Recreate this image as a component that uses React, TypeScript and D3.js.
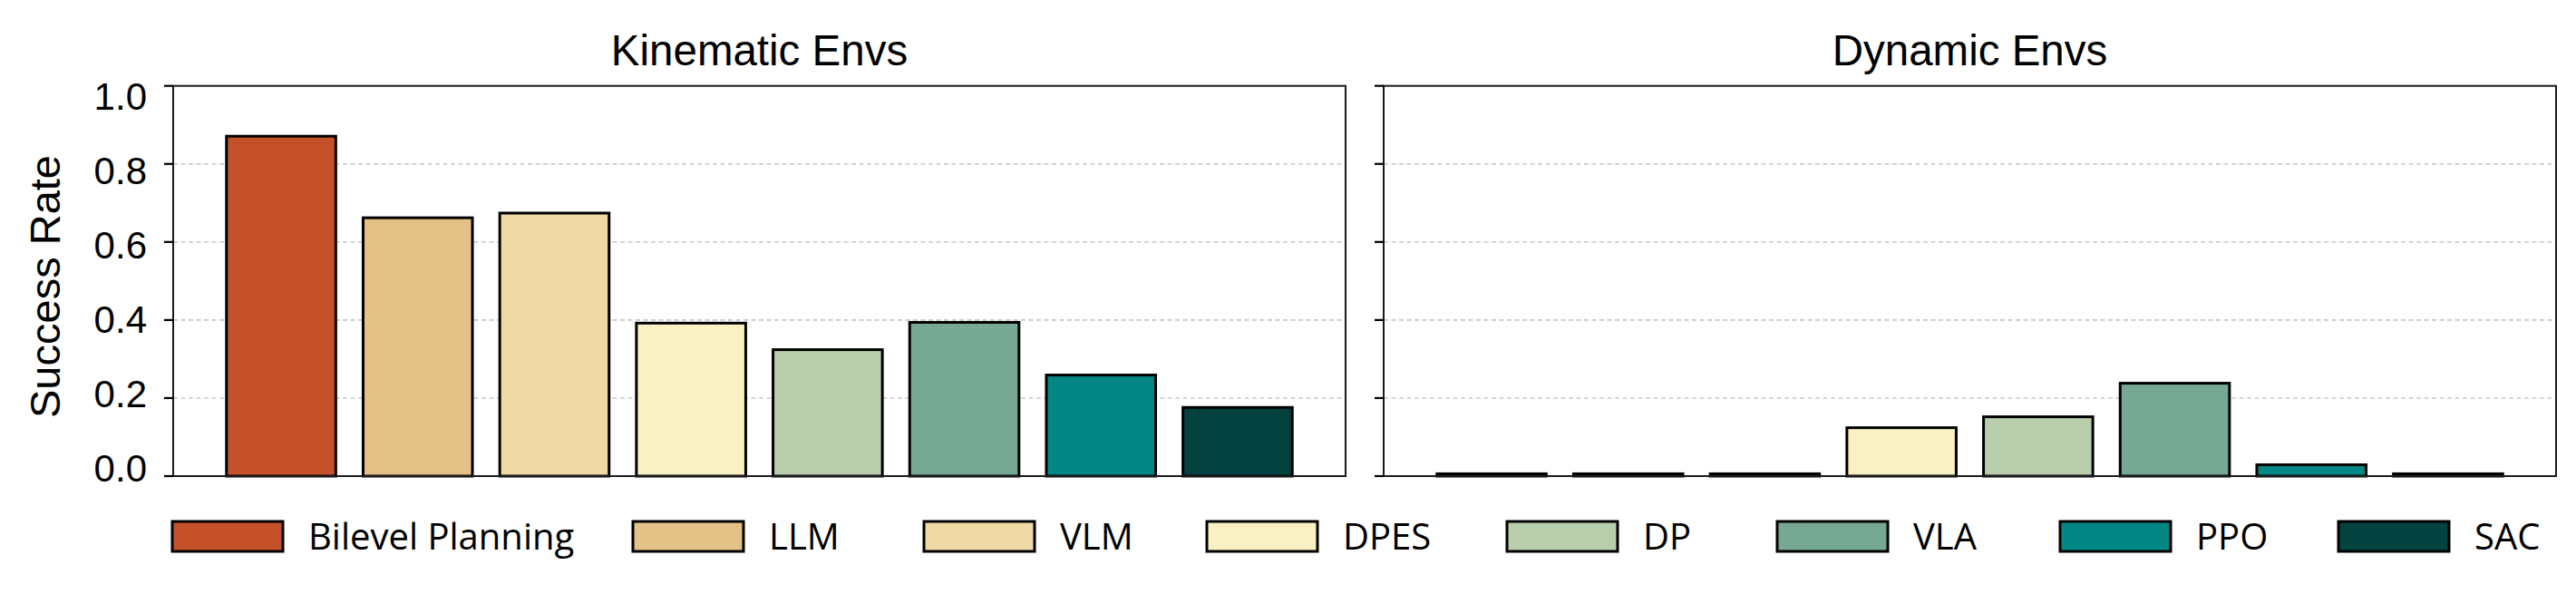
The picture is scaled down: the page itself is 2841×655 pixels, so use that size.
import React from "react";
import * as d3 from "d3";

const methods = ["Bilevel Planning", "LLM", "VLM", "DPES", "DP", "VLA", "PPO", "SAC"];
const kinematicValues = [0.871, 0.662, 0.674, 0.392, 0.324, 0.394, 0.259, 0.176];
const dynamicValues = [0.006, 0.006, 0.006, 0.124, 0.152, 0.238, 0.029, 0.006];
const panelTitles = ["Kinematic Envs", "Dynamic Envs"];
const yTicks = [0.0, 0.2, 0.4, 0.6, 0.8, 1.0];
const colors = ["#C5512A", "#E4C187", "#EFDAA6", "#F9F1C4", "#B8CDAB", "#76A893", "#028784", "#03423F"];

const W = 2841;
const H = 655;
const FONT = "'Liberation Sans', Arial, Helvetica, sans-serif";
const LEGEND_FONT = "'Open Sans', 'Noto Sans', sans-serif";

const panels = [
  { left: 191, right: 1484, values: kinematicValues, title: panelTitles[0], showLabels: true },
  { left: 1526, right: 2819, values: dynamicValues, title: panelTitles[1], showLabels: false },
];
const TOP = 94.7;
const BOTTOM = 525;
const legendStarts = [190, 698, 1019, 1331, 1662, 1960, 2272, 2579];

export default function App() {
  const y = d3.scaleLinear().domain([0, 1]).range([BOTTOM, TOP]);
  const yLabel = d3.scaleLinear().domain([0, 1]).range([515.5, 106]);
  const fmt = d3.format(".1f");

  return (
    <svg
      width={W}
      height={H}
      viewBox={`0 0 ${W} ${H}`}
      style={{ position: "absolute", left: 0, top: 0, display: "block", background: "#fff" }}
      fontFamily={FONT}
    >
      <rect x={0} y={0} width={W} height={H} fill="#fff" />
      {panels.map((p, pi) => {
        const x = d3
          .scaleBand<string>()
          .domain(methods)
          .range([p.left, p.right])
          .paddingInner(0.2)
          .paddingOuter(0.39);
        return (
          <g key={pi}>
            <text
              x={(p.left + p.right) / 2}
              y={72}
              textAnchor="middle"
              fontSize={47.5}
              fill="#000"
            >
              {p.title}
            </text>
            {yTicks
              .filter((t) => t > 0 && t < 1)
              .map((t) => (
                <line
                  key={"g" + t}
                  x1={p.left}
                  x2={p.right}
                  y1={y(t)}
                  y2={y(t)}
                  stroke="#c8c8c8"
                  strokeWidth={1.6}
                  strokeDasharray="5,3.5"
                />
              ))}
            {methods.map((m, i) => {
              const v = p.values[i];
              return (
                <rect
                  key={m}
                  x={x(m)}
                  y={y(v)}
                  width={x.bandwidth()}
                  height={y(0) - y(v)}
                  fill={colors[i]}
                  stroke="#000"
                  strokeWidth={3}
                />
              );
            })}
            <rect
              x={p.left}
              y={TOP}
              width={p.right - p.left}
              height={BOTTOM - TOP}
              fill="none"
              stroke="#1a1a1a"
              strokeWidth={2}
            />
            {yTicks.map((t) => (
              <line
                key={"t" + t}
                x1={p.left - 10}
                x2={p.left}
                y1={y(t)}
                y2={y(t)}
                stroke="#000"
                strokeWidth={2.2}
              />
            ))}
            {p.showLabels &&
              yTicks.map((t) => (
                <text
                  key={"l" + t}
                  x={162}
                  y={yLabel(t)}
                  dy="0.36em"
                  textAnchor="end"
                  fontSize={42}
                  fill="#000"
                >
                  {fmt(t)}
                </text>
              ))}
          </g>
        );
      })}
      <text
        transform={`translate(66,316) rotate(-90)`}
        textAnchor="middle"
        fontSize={47}
        fill="#000"
      >
        Success Rate
      </text>
      {methods.map((m, i) => (
        <g key={"lg" + m} transform={`translate(${legendStarts[i]},0)`}>
          <rect x={0} y={575} width={122} height={33} fill={colors[i]} stroke="#000" strokeWidth={3} />
          <text x={150} y={606} fontSize={40} fill="#000" fontFamily={LEGEND_FONT}>
            {m}
          </text>
        </g>
      ))}
    </svg>
  );
}
